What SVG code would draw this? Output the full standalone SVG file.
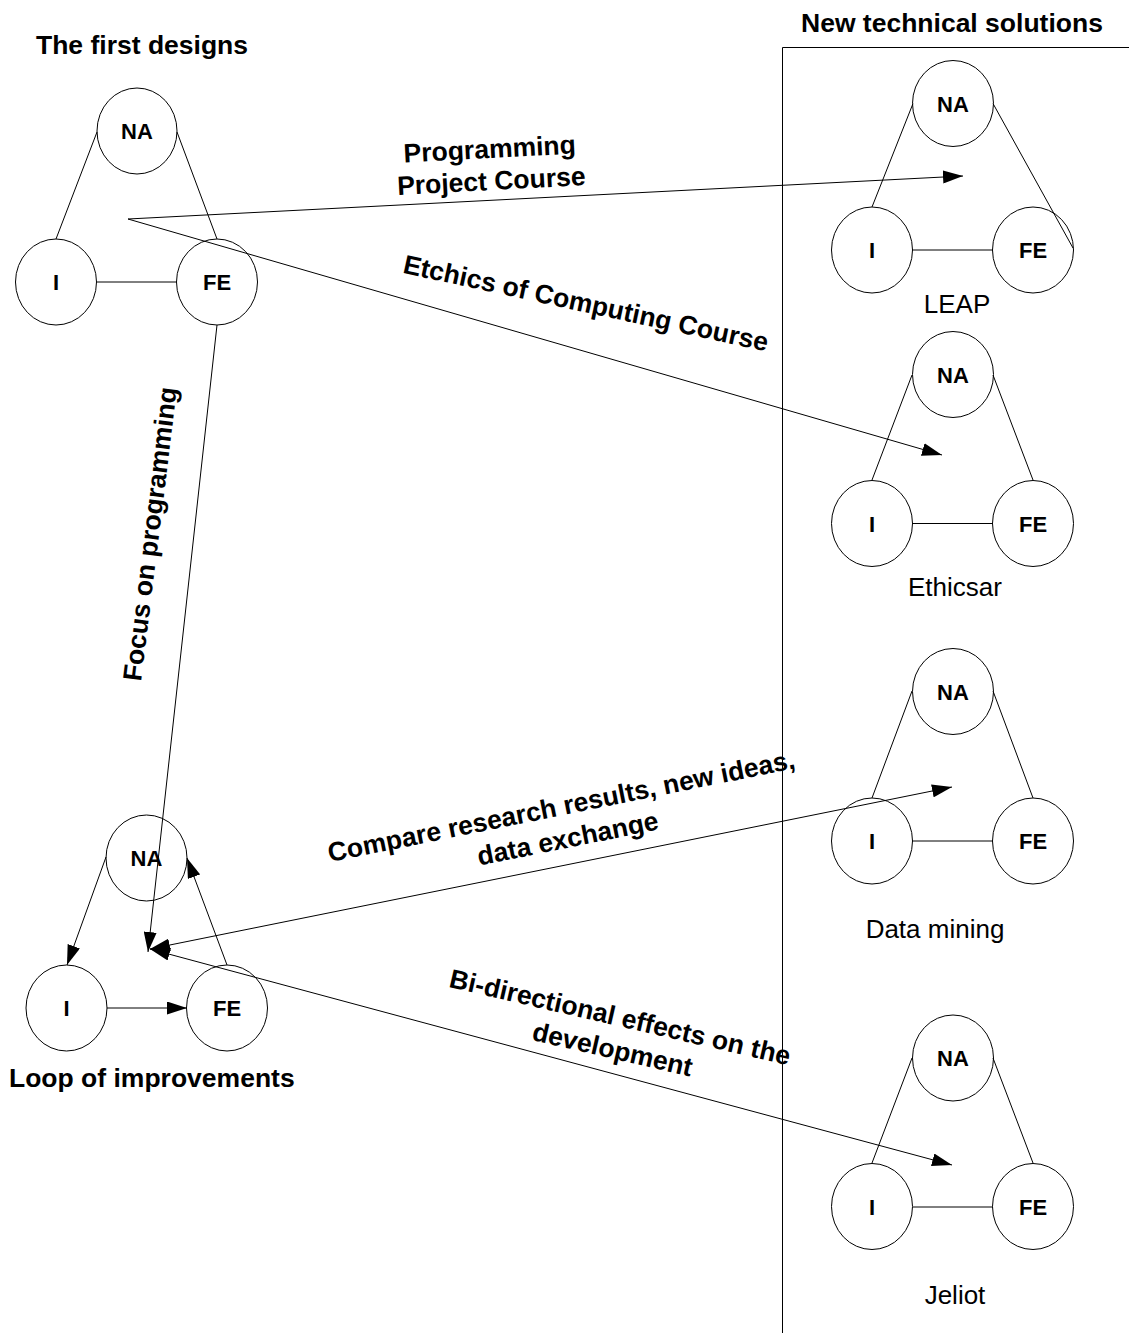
<svg xmlns="http://www.w3.org/2000/svg" width="1129" height="1333" viewBox="0 0 1129 1333">
  <style>
    text { font-family: "Liberation Sans", Arial, sans-serif; fill: #000; }
    .title { font-size: 26.5px; font-weight: bold; }
    .lbl { font-size: 26.5px; font-weight: bold; text-anchor: middle; }
    .node { font-size: 22px; font-weight: bold; text-anchor: middle; }
    .cap { font-size: 26px; text-anchor: middle; }
    ellipse { fill: none; stroke: #000; stroke-width: 1; }
    line, path.edge { fill: none; stroke: #000; stroke-width: 1; }
    .arrow { marker-end: url(#head); }
    .both { marker-start: url(#head); marker-end: url(#head); }
  </style>
  <defs>
    <marker id="head" markerUnits="userSpaceOnUse" markerWidth="20" markerHeight="13" refX="20" refY="6.5" orient="auto-start-reverse">
      <path d="M0,0 L20,6.5 L0,13 Z" fill="#000"/>
    </marker>
  </defs>
  <rect width="1129" height="1333" fill="#fff"/>

  <!-- headings and panel frame -->
  <text class="title" x="36" y="54">The first designs</text>
  <text class="title" x="801" y="32">New technical solutions</text>
  <path class="edge" d="M782.5,1333 V47.5 H1129"/>

  <!-- first designs triangle -->
  <g id="first-designs">
    <line x1="97" y1="132" x2="56" y2="239"/>
    <line x1="177" y1="132" x2="217" y2="239"/>
    <line x1="97" y1="282" x2="177" y2="282"/>
    <g id="fd-na"><ellipse cx="137" cy="131" rx="40" ry="43"/><text class="node" x="137" y="139">NA</text></g>
    <g id="fd-i"><ellipse cx="56" cy="282" rx="40.5" ry="43"/><text class="node" x="56" y="290">I</text></g>
    <g id="fd-fe"><ellipse cx="217" cy="282" rx="40.5" ry="43"/><text class="node" x="217" y="290">FE</text></g>
  </g>

  <!-- LEAP -->
  <g id="leap">
    <line x1="913" y1="103.5" x2="872" y2="207"/>
    <line x1="993" y1="103.5" x2="1073" y2="248"/>
    <line x1="912" y1="250" x2="993" y2="250"/>
    <ellipse cx="953" cy="103.5" rx="40.5" ry="43"/><text class="node" x="953" y="111.5">NA</text>
    <ellipse cx="872" cy="250" rx="40.5" ry="43"/><text class="node" x="872" y="258">I</text>
    <ellipse cx="1033" cy="250" rx="40.5" ry="43"/><text class="node" x="1033" y="258">FE</text>
    <text class="cap" x="957" y="313">LEAP</text>
  </g>

  <!-- Ethicsar -->
  <g id="ethicsar">
    <line x1="912" y1="375" x2="872" y2="480"/>
    <line x1="993" y1="375" x2="1033" y2="480"/>
    <line x1="912" y1="523.5" x2="993" y2="523.5"/>
    <ellipse cx="953" cy="374.5" rx="40.5" ry="43"/><text class="node" x="953" y="382.5">NA</text>
    <ellipse cx="872" cy="523.5" rx="40.5" ry="43"/><text class="node" x="872" y="531.5">I</text>
    <ellipse cx="1033" cy="523.5" rx="40.5" ry="43"/><text class="node" x="1033" y="531.5">FE</text>
    <text class="cap" x="955" y="596">Ethicsar</text>
  </g>

  <!-- Data mining -->
  <g id="data-mining">
    <line x1="912" y1="691" x2="872" y2="798"/>
    <line x1="993" y1="691" x2="1033" y2="798"/>
    <line x1="912" y1="841" x2="993" y2="841"/>
    <ellipse cx="953" cy="691.5" rx="40.5" ry="43"/><text class="node" x="953" y="699.5">NA</text>
    <ellipse cx="872" cy="841" rx="40.5" ry="43"/><text class="node" x="872" y="849">I</text>
    <ellipse cx="1033" cy="841" rx="40.5" ry="43"/><text class="node" x="1033" y="849">FE</text>
    <text class="cap" x="935" y="938">Data mining</text>
  </g>

  <!-- Jeliot -->
  <g id="jeliot">
    <line x1="912" y1="1058" x2="872" y2="1163"/>
    <line x1="993" y1="1058" x2="1033" y2="1163"/>
    <line x1="913" y1="1207" x2="993" y2="1207"/>
    <ellipse cx="953" cy="1058" rx="40.5" ry="43"/><text class="node" x="953" y="1066">NA</text>
    <ellipse cx="872" cy="1206.5" rx="40.5" ry="43"/><text class="node" x="872" y="1214.5">I</text>
    <ellipse cx="1033" cy="1206.5" rx="40.5" ry="43"/><text class="node" x="1033" y="1214.5">FE</text>
    <text class="cap" x="955" y="1304">Jeliot</text>
  </g>

  <!-- loop of improvements -->
  <g id="loop">
    <line class="arrow" x1="106" y1="857" x2="67" y2="965"/>
    <line class="arrow" x1="107" y1="1008" x2="187" y2="1008"/>
    <line class="arrow" x1="227" y1="965" x2="187" y2="858"/>
    <ellipse cx="146.5" cy="858" rx="40.5" ry="43"/><text class="node" x="146.5" y="866">NA</text>
    <ellipse cx="66.5" cy="1008" rx="40.5" ry="43"/><text class="node" x="66.5" y="1016">I</text>
    <ellipse cx="227" cy="1008" rx="40.5" ry="43"/><text class="node" x="227" y="1016">FE</text>
    <text class="title" x="9" y="1087">Loop of improvements</text>
  </g>

  <!-- connectors between the groups -->
  <g id="connectors">
    <line class="arrow" x1="128" y1="219" x2="963" y2="176"/>
    <line class="arrow" x1="128" y1="219" x2="942" y2="455"/>
    <line class="arrow" x1="217" y1="325" x2="148" y2="952"/>
    <line class="both" x1="150" y1="949" x2="952" y2="787"/>
    <line class="both" x1="150" y1="949" x2="952" y2="1165"/>
  </g>

  <!-- connector labels -->
  <g id="labels">
    <text class="lbl" transform="rotate(-3 491 175)"><tspan x="491" y="158">Programming</tspan><tspan x="491" y="190">Project Course</tspan></text>
    <text class="lbl" transform="rotate(12.2 584 312)" x="584" y="312">Etchics of Computing Course</text>
    <text class="lbl" transform="rotate(-83 159 535)" x="159" y="535">Focus on programming</text>
    <text class="lbl" transform="rotate(-11.4 563 815)"><tspan x="563" y="815">Compare research results, new ideas,</tspan><tspan x="563" y="848">data exchange</tspan></text>
    <text class="lbl" transform="rotate(13 618 1026)"><tspan x="618" y="1026">Bi-directional effects on the</tspan><tspan x="618" y="1059">development</tspan></text>
  </g>
</svg>
